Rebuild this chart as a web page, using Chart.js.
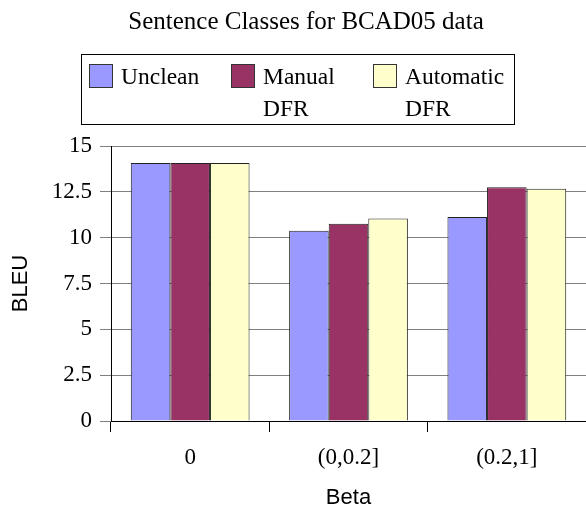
<!DOCTYPE html>
<html>
<head>
<meta charset="utf-8">
<script src="https://cdn.jsdelivr.net/npm/chart.js@4.4.1/dist/chart.umd.min.js"></script>
<style>
  html, body { margin: 0; padding: 0; background: #fff; }
</style>
</head>
<body>
<canvas id="chart" width="586" height="511"></canvas>
<script>
// data
const chartTitle = 'Sentence Classes for BCAD05 data';
const categories = ['0', '(0,0.2]', '(0.2,1]'];
const seriesNames = ['Unclean', 'Manual\nDFR', 'Automatic\nDFR'];
const unclean = [14.07, 10.38, 11.13];
const manualDfr = [14.07, 10.76, 12.75];
const automaticDfr = [14.07, 11.04, 12.67];
const seriesColors = ['#9999FF', '#993366', '#FFFFCC'];

const serif = '"Liberation Serif", "Times New Roman", serif';
const sans = '"Liberation Sans", Arial, sans-serif';

// title + two-line legend box, drawn by hand since the built-in legend can't wrap
const legendBox = {
  id: 'legendBox',
  afterDraw(chart) {
    const c = chart.ctx;
    c.save();
    c.fillStyle = '#000';
    c.font = '25px ' + serif;
    c.textAlign = 'center';
    c.textBaseline = 'alphabetic';
    c.fillText(chartTitle, 306, 29);

    c.strokeStyle = '#000';
    c.lineWidth = 1;
    c.strokeRect(81.5, 54.5, 433, 70);

    const xs = [89, 231, 373];
    c.font = '23.5px ' + serif;
    c.textAlign = 'left';
    chart.data.datasets.forEach((ds, i) => {
      c.fillStyle = ds.backgroundColor;
      c.fillRect(xs[i], 64, 24, 24);
      c.strokeStyle = '#333';
      c.strokeRect(xs[i] + 0.5, 64.5, 23, 23);
      c.fillStyle = '#000';
      ds.label.split('\n').forEach((line, j) => {
        c.fillText(line, xs[i] + 32, 84 + j * 32);
      });
    });
    c.restore();
  }
};

new Chart(document.getElementById('chart'), {
  type: 'bar',
  data: {
    labels: categories,
    datasets: [unclean, manualDfr, automaticDfr].map((vals, i) => ({
      label: seriesNames[i],
      data: vals,
      backgroundColor: seriesColors[i],
      borderColor: '#222',
      borderWidth: 1,
      categoryPercentage: 0.75,
      barPercentage: 1
    }))
  },
  options: {
    responsive: false,
    animation: false,
    layout: { padding: { top: 146, right: 0, left: 0, bottom: 0 } },
    plugins: {
      legend: { display: false },
      title: { display: false },
      tooltip: { enabled: false }
    },
    scales: {
      x: {
        grid: { offset: true, drawOnChartArea: false, tickLength: 11, color: '#000' },
        border: { color: '#000' },
        ticks: { color: '#000', font: { family: serif, size: 23 }, padding: 12 },
        title: { display: true, text: 'Beta', color: '#000', font: { family: sans, size: 22 }, padding: { top: 0, bottom: 0 } },
        afterFit(s) { s.height = 90; }
      },
      y: {
        min: 0,
        max: 15,
        ticks: { stepSize: 2.5, color: '#000', font: { family: serif, size: 23 }, padding: 8 },
        grid: { color: '#808080', tickLength: 11 },
        border: { color: '#000' },
        title: { display: true, text: 'BLEU', color: '#000', font: { family: sans, size: 22 }, padding: { top: 8, bottom: 0 } },
        afterFit(s) { s.width = 111; }
      }
    }
  },
  plugins: [legendBox]
});
</script>
</body>
</html>
